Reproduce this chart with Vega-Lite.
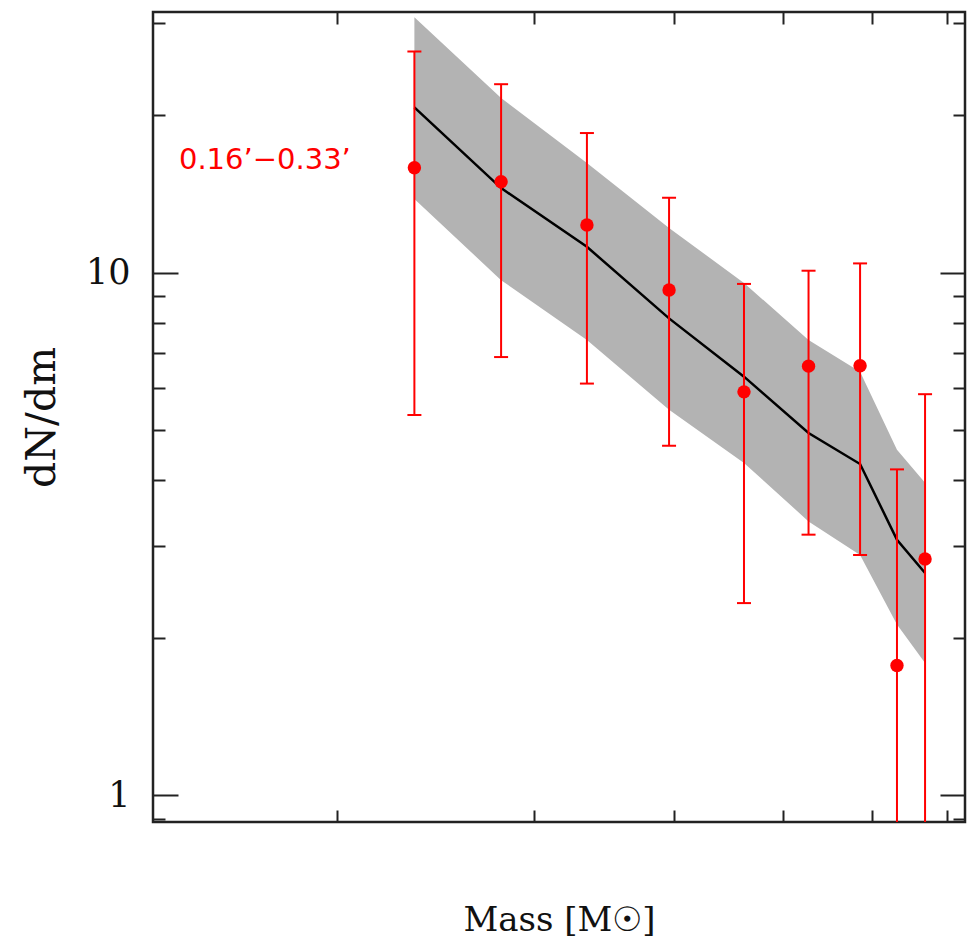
{
  "$schema": "https://vega.github.io/schema/vega-lite/v6.json",
  "width": 812,
  "height": 810,
  "autosize": "none",
  "padding": {"left": 153, "top": 12, "right": 13, "bottom": 116},
  "background": "white",
  "data": {
    "values": [
      {"mass": 0.2345, "obs": 15.87, "obs_lo": 5.34, "obs_hi": 26.47, "model": 20.71, "model_lo": 13.82, "model_hi": 30.79},
      {"mass": 0.2802, "obs": 14.92, "obs_lo": 6.89, "obs_hi": 22.93, "model": 14.51, "model_lo": 9.67, "model_hi": 21.58},
      {"mass": 0.3342, "obs": 12.33, "obs_lo": 6.13, "obs_hi": 18.49, "model": 11.2, "model_lo": 7.43, "model_hi": 16.2},
      {"mass": 0.3956, "obs": 9.26, "obs_lo": 4.66, "obs_hi": 13.9, "model": 8.17, "model_lo": 5.46, "model_hi": 12.17},
      {"mass": 0.4614, "obs": 5.91, "obs_lo": 2.33, "obs_hi": 9.51, "model": 6.32, "model_lo": 4.32, "model_hi": 9.55},
      {"mass": 0.5268, "obs": 6.62, "obs_lo": 3.15, "obs_hi": 10.08, "model": 4.93, "model_lo": 3.34, "model_hi": 7.43},
      {"mass": 0.5856, "obs": 6.63, "obs_lo": 2.88, "obs_hi": 10.41, "model": 4.3, "model_lo": 2.88, "model_hi": 6.46},
      {"mass": 0.6317, "obs": 1.77, "obs_lo": 0.5, "obs_hi": 4.2, "model": 3.08, "model_lo": 2.12, "model_hi": 4.58},
      {"mass": 0.6692, "obs": 2.83, "obs_lo": 0.5, "obs_hi": 5.85, "model": 2.66, "model_lo": 1.79, "model_hi": 3.96}
    ]
  },
  "layer": [
    {
      "mark": {"type": "area", "color": "#b3b3b3", "opacity": 1, "clip": true},
      "encoding": {
        "x": {"field": "mass", "type": "quantitative",
              "scale": {"type": "log", "domain": [0.1371, 0.7264], "nice": false},
              "axis": {"orient": "bottom", "values": [0.2, 0.3, 0.4, 0.5, 0.6, 0.7], "labels": false,
                       "tickSize": -12, "title": "Mass [M☉]", "titlePadding": 80}},
        "y": {"field": "model_lo", "type": "quantitative",
              "scale": {"type": "log", "domain": [0.888, 31.52], "nice": false},
              "axis": {"orient": "left", "values": [1, 10], "ticks": false, "tickSize": 0,
                       "labelPadding": 23, "labelFontSize": 35, "format": "~g",
                       "title": "dN/dm", "titleFontSize": 41, "titlePadding": 22}},
        "y2": {"field": "model_hi"}
      }
    },
    {
      "mark": {"type": "line", "color": "black", "strokeWidth": 2.5, "clip": true},
      "encoding": {
        "x": {"field": "mass", "type": "quantitative",
              "axis": {"orient": "top", "values": [0.2, 0.3, 0.4, 0.5, 0.6, 0.7], "labels": false,
                       "tickSize": -12, "title": null}},
        "y": {"field": "model", "type": "quantitative",
              "axis": {"orient": "left", "values": [1, 10], "labels": false, "tickSize": -25, "title": null}}
      }
    },
    {
      "mark": {"type": "rule", "color": "#ff0000", "strokeWidth": 2, "clip": true},
      "encoding": {
        "x": {"field": "mass", "type": "quantitative", "axis": null},
        "y": {"field": "obs_lo", "type": "quantitative",
              "axis": {"orient": "left", "values": [0.9, 2, 3, 4, 5, 6, 7, 8, 9, 20, 30],
                       "labels": false, "tickSize": -12, "title": null}},
        "y2": {"field": "obs_hi"}
      }
    },
    {
      "mark": {"type": "tick", "orient": "horizontal", "color": "#ff0000", "size": 14, "thickness": 2, "opacity": 1, "clip": true},
      "encoding": {
        "x": {"field": "mass", "type": "quantitative", "axis": null},
        "y": {"field": "obs_hi", "type": "quantitative",
              "axis": {"orient": "right", "values": [1, 10], "labels": false, "tickSize": -25, "title": null}}
      }
    },
    {
      "mark": {"type": "tick", "orient": "horizontal", "color": "#ff0000", "size": 14, "thickness": 2, "opacity": 1, "clip": true},
      "encoding": {
        "x": {"field": "mass", "type": "quantitative", "axis": null},
        "y": {"field": "obs_lo", "type": "quantitative",
              "axis": {"orient": "right", "values": [0.9, 2, 3, 4, 5, 6, 7, 8, 9, 20, 30],
                       "labels": false, "tickSize": -12, "title": null}}
      }
    },
    {
      "mark": {"type": "circle", "color": "#ff0000", "size": 180, "opacity": 1, "clip": true},
      "encoding": {
        "x": {"field": "mass", "type": "quantitative", "axis": null},
        "y": {"field": "obs", "type": "quantitative", "axis": null}
      }
    },
    {
      "data": {"values": [{"mass": 0.1446, "obs": 16.42, "label": "0.16’−0.33’"}]},
      "mark": {"type": "text", "color": "#ff0000", "font": "DejaVu Sans", "fontSize": 29, "align": "left", "baseline": "middle"},
      "encoding": {
        "x": {"field": "mass", "type": "quantitative", "axis": null},
        "y": {"field": "obs", "type": "quantitative", "axis": null},
        "text": {"field": "label"}
      }
    }
  ],
  "resolve": {"axis": {"x": "independent", "y": "independent"}},
  "config": {
    "view": {"stroke": "#222222", "strokeWidth": 2.5},
    "axis": {
      "domain": false,
      "grid": false,
      "tickColor": "#222222",
      "tickWidth": 2,
      "labelFont": "DejaVu Serif",
      "labelFontSize": 34,
      "labelColor": "#111111",
      "titleFont": "DejaVu Serif",
      "titleFontSize": 34,
      "titleFontWeight": "normal",
      "titleColor": "#111111"
    }
  }
}
